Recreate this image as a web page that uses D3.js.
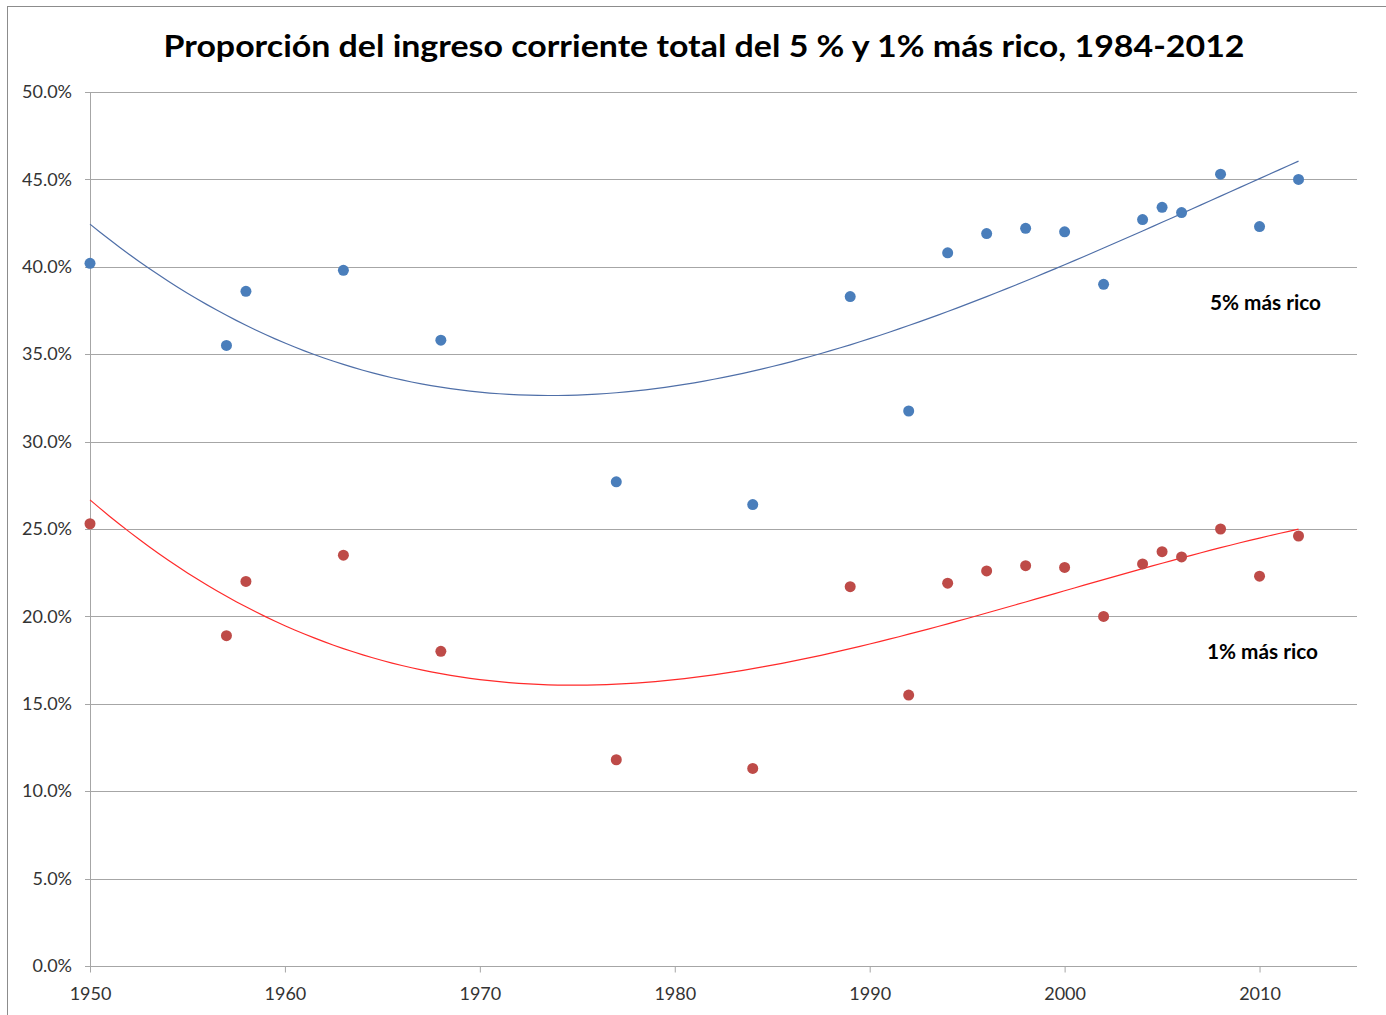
<!DOCTYPE html>
<html>
<head>
<meta charset="utf-8">
<script src="https://cdn.jsdelivr.net/npm/d3@7"></script>
<style>
  body { margin: 0; background: #fff; }
  text { font-family: Lato, "Open Sans", sans-serif; }
</style>
</head>
<body>
<div id="chart"></div>
<script>
// data
var years = [1950, 1957, 1958, 1963, 1968, 1977, 1984, 1989, 1992, 1994, 1996, 1998, 2000, 2002, 2004, 2005, 2006, 2008, 2010, 2012];
var top5 = [40.2, 35.5, 38.6, 39.8, 35.8, 27.7, 26.4, 38.3, 31.75, 40.8, 41.9, 42.2, 42.0, 39.0, 42.7, 43.4, 43.1, 45.3, 42.3, 45.0];
var top1 = [25.3, 18.9, 22.0, 23.5, 18.0, 11.8, 11.3, 21.7, 15.5, 21.9, 22.6, 22.9, 22.8, 20.0, 23.0, 23.7, 23.4, 25.0, 22.3, 24.6];
var yTicks = [0, 5, 10, 15, 20, 25, 30, 35, 40, 45, 50];
var xTicks = [1950, 1960, 1970, 1980, 1990, 2000, 2010];

var W = 1386, H = 1015;
var margin = {top: 92, right: 29, bottom: 49, left: 90};
var width = W - margin.left - margin.right;
var height = H - margin.top - margin.bottom;

var svg = d3.select("#chart").append("svg")
  .attr("width", W)
  .attr("height", H);

// outer chart border
svg.append("rect")
  .attr("x", 7.5).attr("y", 6.5)
  .attr("width", W + 10).attr("height", H + 10)
  .attr("fill", "none")
  .attr("stroke", "#8c8c8c")
  .attr("stroke-width", 1);

svg.append("text")
  .attr("x", 704).attr("y", 57)
  .attr("text-anchor", "middle")
  .attr("font-size", 31)
  .attr("font-weight", "bold")
  .attr("fill", "#000")
  .attr("textLength", 1081)
  .attr("lengthAdjust", "spacingAndGlyphs")
  .text("Proporción del ingreso corriente total del 5 % y 1% más rico, 1984-2012");

var g = svg.append("g")
  .attr("transform", "translate(" + margin.left + "," + margin.top + ")");

var x = d3.scaleLinear().domain([1950, 2015]).range([0, width]);
var y = d3.scaleLinear().domain([0, 50]).range([height, 0]);

// gridlines
g.append("g")
  .selectAll("line")
  .data(yTicks)
  .join("line")
  .attr("x1", -5).attr("x2", width)
  .attr("y1", function(d) { return Math.round(y(d)) + 0.5; })
  .attr("y2", function(d) { return Math.round(y(d)) + 0.5; })
  .attr("stroke", "#a6a6a6")
  .attr("stroke-width", 1);

// Y axis
var yAxis = g.append("g")
  .call(d3.axisLeft(y).tickValues(yTicks).tickSize(0).tickPadding(18)
    .tickFormat(function(d) { return d.toFixed(1) + "%"; }));
yAxis.select(".domain").attr("stroke", "#a6a6a6").attr("d", "M0.5,0V" + height);
yAxis.selectAll("text").attr("font-size", 18).attr("fill", "#333")
  .attr("font-family", "Lato, 'Open Sans', sans-serif");

// X axis
var xAxis = g.append("g")
  .attr("transform", "translate(0," + (Math.round(height) + 0.5) + ")")
  .call(d3.axisBottom(x).tickValues(xTicks).tickSize(6).tickPadding(15)
    .tickFormat(d3.format("d")));
xAxis.select(".domain").attr("stroke", "#a6a6a6").attr("d", "M0,0H" + width);
xAxis.selectAll("line").attr("stroke", "#a6a6a6");
xAxis.selectAll("text").attr("font-size", 18).attr("fill", "#333")
  .attr("font-family", "Lato, 'Open Sans', sans-serif");

// least squares polynomial trend (like Excel's polynomial trendline)
function polyFit(xs, ys, order) {
  var n = order + 1, x0 = 1980, sc = 30;
  var A = [];
  for (var r = 0; r < n; r++) { A.push([]); for (var c = 0; c <= n; c++) A[r].push(0); }
  xs.forEach(function(xv, i) {
    var u = (xv - x0) / sc;
    for (var r = 0; r < n; r++) {
      for (var c = 0; c < n; c++) A[r][c] += Math.pow(u, r + c);
      A[r][n] += ys[i] * Math.pow(u, r);
    }
  });
  for (var c = 0; c < n; c++) {
    for (var r = c + 1; r < n; r++) {
      var f = A[r][c] / A[c][c];
      for (var j = c; j <= n; j++) A[r][j] -= f * A[c][j];
    }
  }
  var b = new Array(n).fill(0);
  for (var r = n - 1; r >= 0; r--) {
    var sum = A[r][n];
    for (var j = r + 1; j < n; j++) sum -= A[r][j] * b[j];
    b[r] = sum / A[r][r];
  }
  return function(yr) {
    var u = (yr - x0) / sc, v = 0;
    for (var k = 0; k < n; k++) v += b[k] * Math.pow(u, k);
    return v;
  };
}

var trendYears = d3.range(1950, 2012.01, 0.5);
var line = d3.line()
  .x(function(d) { return x(d[0]); })
  .y(function(d) { return y(d[1]); });

var series = [
  {vals: top5, dot: "#4a7ebb", trend: "#4f6fa8", label: "5% más rico", lx: 1210, ly: 310},
  {vals: top1, dot: "#be4b48", trend: "#ff2a2a", label: "1% más rico", lx: 1207, ly: 659}
];

series.forEach(function(s) {
  var fit = polyFit(years, s.vals, 3);
  g.append("path")
    .datum(trendYears.map(function(yr) { return [yr, fit(yr)]; }))
    .attr("fill", "none")
    .attr("stroke", s.trend)
    .attr("stroke-width", 1.2)
    .attr("d", line);

  g.append("g")
    .selectAll("circle")
    .data(years)
    .join("circle")
    .attr("cx", function(d) { return x(d); })
    .attr("cy", function(d, i) { return y(s.vals[i]); })
    .attr("r", 5.5)
    .attr("fill", s.dot);

  svg.append("text")
    .attr("x", s.lx).attr("y", s.ly)
    .attr("font-size", 20)
    .attr("font-weight", "bold")
    .attr("fill", "#000")
    .attr("textLength", 111)
    .attr("lengthAdjust", "spacingAndGlyphs")
    .text(s.label);
});
</script>
</body>
</html>
